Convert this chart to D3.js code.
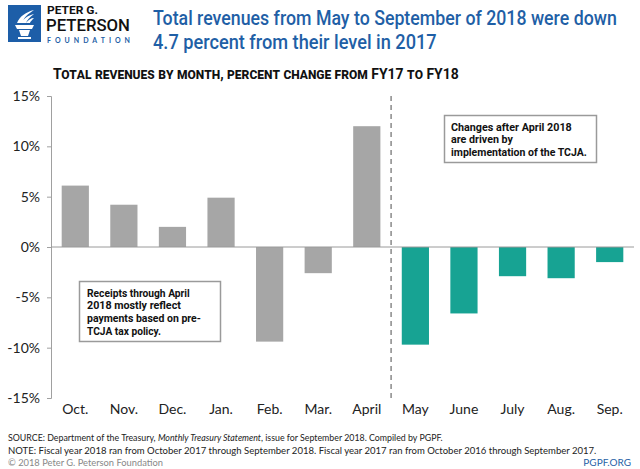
<!DOCTYPE html>
<html><head><meta charset="utf-8">
<script src="https://cdn.jsdelivr.net/npm/d3@7"></script>
<style>
body{margin:0;background:#fff;}
svg{display:block;}
</style></head>
<body>
<svg id="chart" width="640" height="469"></svg>
<script>
const months = ["Oct.","Nov.","Dec.","Jan.","Feb.","Mar.","April","May","June","July","Aug.","Sep."];
const changes = [6.1, 4.2, 2.0, 4.9, -9.4, -2.6, 12.0, -9.7, -6.6, -2.9, -3.1, -1.5];
const periods = ["pre","pre","pre","pre","pre","pre","pre","post","post","post","post","post"];
const yTicks = [-15,-10,-5,0,5,10,15];
const titleLines = ["Total revenues from May to September of 2018 were down","4.7 percent from their level in 2017"];
const subtitle = "Total revenues by month, percent change from FY17 to FY18";
const leftNote = ["Receipts through April","2018 mostly reflect","payments based on pre-","TCJA tax policy."];
const rightNote = ["Changes after April 2018","are driven by","implementation of the TCJA."];

const svg = d3.select("#chart");
const narrow = "Roboto,'Liberation Sans',Arial,sans-serif";
const gill = "Lato,'Open Sans',sans-serif";
const blue = "#1f5fa6";

// horizontally squeeze a text (placed at x,y) to a target width
function squeeze(parent, x0, y0, w, txt, attrs){
  const g = parent.append("g");
  const t = g.append("text").attr("x",0).attr("y",0).text(txt);
  for (const k in attrs) { if (k==="font-variant") t.style(k, attrs[k]); else t.attr(k, attrs[k]); }
  const len = t.node().getComputedTextLength();
  const sx = len > 0 ? w / len : 1;
  g.attr("transform", `translate(${x0},${y0}) scale(${sx.toFixed(4)},1)`);
  return t;
}
function fitSize(sel, w){
  const fs = parseFloat(sel.attr("font-size"));
  const len = sel.node().getComputedTextLength();
  if (len > 0) sel.attr("font-size", (fs * w / len).toFixed(2));
  return sel;
}

// Logo
const logo = svg.append("g");
logo.append("rect").attr("x",8).attr("y",5).attr("width",33).attr("height",37).attr("fill","#1d5ea8");
logo.append("path").attr("d","M15,25 L34,25 L32,29 L17,29 Z M19,30 L30,30 L28,36 L21,36 Z M18,37 L31,37 L31,39 L18,39 Z").attr("fill","#fff");
logo.append("path").attr("d","M17,23 C20,16 26,12 34,10 C28,14 24,17 22,23 Z M21,23 C24,18 29,15 34,14 C30,17 27,20 26,23 Z M26,23 C28,20 31,18 34,18 C32,20 30,22 30,23 Z").attr("fill","#fff");
squeeze(logo, 47, 13.5, 51, "PETER G.", {"font-family":narrow,"font-weight":"bold","font-size":11,"fill":"#111"});
squeeze(logo, 46, 31, 84, "PETERSON", {"font-family":narrow,"font-weight":500,"font-size":16,"fill":"#111"});
logo.append("text").attr("x",47).attr("y",42.5).text("FOUNDATION")
  .attr("font-family",gill).attr("font-weight","bold").attr("font-size",7).attr("fill",blue)
  .attr("textLength",83).attr("lengthAdjust","spacing");

// Title
const titleW = [464, 284];
titleLines.forEach((d,i)=>squeeze(svg, 153, 25+i*24, titleW[i], d,
  {"font-family":narrow,"font-weight":500,"font-size":21,"fill":blue}));

// Subtitle small caps
squeeze(svg, 53, 79, 406, subtitle,
  {"font-family":narrow,"font-weight":"bold","font-size":15,"fill":"#111","font-variant":"small-caps"});

// Scales
const x = d3.scaleBand().domain(months).range([51,634]).paddingInner(0.44).paddingOuter(0.22);
const y = d3.scaleLinear().domain([-15,15]).range([398,96]);

// Y axis
const yAxis = d3.axisLeft(y).tickValues(yTicks).tickFormat(d=>d+"%").tickSize(4).tickPadding(7);
const ga = svg.append("g").attr("transform","translate(51,0)").call(yAxis);
ga.select(".domain").attr("stroke","#a0a0a0");
ga.selectAll(".tick line").attr("stroke","#a0a0a0");
ga.selectAll(".tick text").attr("font-family",gill).attr("font-size",14).attr("fill","#222");

// Bars
svg.append("g").selectAll("rect").data(months).join("rect")
  .attr("x",d=>x(d))
  .attr("width",x.bandwidth())
  .attr("y",(d,i)=>y(Math.max(0,changes[i])))
  .attr("height",(d,i)=>Math.abs(y(changes[i])-y(0)))
  .attr("fill",(d,i)=>periods[i]==="pre"?"#a6a6a6":"#17a393");

// Zero line
svg.append("line").attr("x1",51).attr("x2",634).attr("y1",y(0)).attr("y2",y(0))
  .attr("stroke","#9a9a9a").attr("stroke-width",1);

// Dashed divider between April and May
const divX = (x("April")+x.bandwidth()/2 + x("May")+x.bandwidth()/2)/2;
svg.append("line").attr("x1",divX).attr("x2",divX).attr("y1",y(15)).attr("y2",y(-15))
  .attr("stroke","#777").attr("stroke-width",1.3).attr("stroke-dasharray","5,4");

// X labels
const xAxis = d3.axisBottom(x).tickSize(0).tickPadding(0);
const gx = svg.append("g").attr("transform","translate(0,404)").call(xAxis);
gx.select(".domain").remove();
gx.selectAll(".tick text").attr("font-family",gill).attr("font-size",14).attr("fill","#222").attr("dy","0.71em");

// Note boxes
function noteBox(x0,y0,w,h,lines,widths,tx,ty){
  const g = svg.append("g");
  g.append("rect").attr("x",x0).attr("y",y0).attr("width",w).attr("height",h)
    .attr("fill","#fff").attr("stroke","#9a9a9a").attr("stroke-width",1.5);
  lines.forEach((d,i)=>squeeze(g, tx, ty+i*12.7, widths[i], d,
    {"font-family":narrow,"font-weight":"bold","font-size":11.5,"fill":"#111"}));
}
noteBox(79.5,281.5,141,60,leftNote,[103,94,114,74],87,296.5);
noteBox(444.5,115.5,152,47,rightNote,[121,62,136],451,130.5);

// Footer
const foot = svg.append("g").attr("font-family",gill).attr("fill","#222");
const s = foot.append("text").attr("x",8).attr("y",441).attr("font-size",10);
s.append("tspan").text("SOURCE: Department of the Treasury, ");
s.append("tspan").attr("font-style","italic").text("Monthly Treasury Statement");
s.append("tspan").text(", issue for September 2018. Compiled by PGPF.");
fitSize(s, 435);
fitSize(foot.append("text").attr("x",8).attr("y",454).attr("font-size",10)
  .text("NOTE: Fiscal year 2018 ran from October 2017 through September 2018. Fiscal year 2017 ran from October 2016 through September 2017."), 589);
fitSize(foot.append("text").attr("x",8).attr("y",466).attr("fill","#888").attr("font-size",9.5)
  .text("© 2018 Peter G. Peterson Foundation"), 155);
foot.append("text").attr("x",631).attr("y",466).attr("text-anchor","end").attr("fill",blue).attr("font-size",10)
  .text("PGPF.ORG");
</script>
</body></html>
